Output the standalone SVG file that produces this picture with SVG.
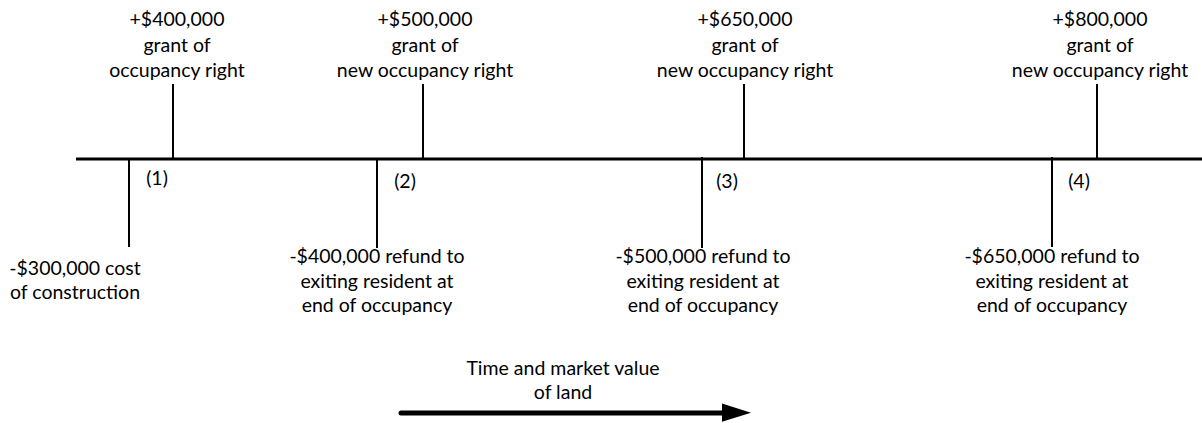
<svg xmlns="http://www.w3.org/2000/svg" width="1202" height="423" viewBox="0 0 1202 423">
  <defs>
    <style>
      text { font-family: Lato, "Liberation Sans", sans-serif; font-size: 19.5px; fill: #000; text-anchor: middle; }
      .tick { stroke: #000; stroke-width: 2; fill: none; }
      .axis { stroke: #000; stroke-width: 3; fill: none; }
      .arrow { stroke: #000; stroke-width: 5; stroke-linecap: round; fill: none; }
    </style>
  </defs>
  <rect width="1202" height="423" fill="#fff"/>

  <g id="connectors">
    <line class="axis" x1="76" y1="159" x2="1202" y2="159"/>
    <line class="tick" x1="173" y1="84" x2="173" y2="158"/>
    <line class="tick" x1="423" y1="84" x2="423" y2="158"/>
    <line class="tick" x1="744" y1="84" x2="744" y2="158"/>
    <line class="tick" x1="1097" y1="84" x2="1097" y2="158"/>
    <line class="tick" x1="129" y1="158" x2="129" y2="247"/>
    <line class="tick" x1="377" y1="158" x2="377" y2="248"/>
    <line class="tick" x1="702" y1="157" x2="702" y2="248"/>
    <line class="tick" x1="1052" y1="157" x2="1052" y2="247"/>
  </g>

  <g id="inflow1">
    <text x="177" y="26">+$400,000</text>
    <text x="177" y="51.5">grant of</text>
    <text x="177" y="77">occupancy right</text>
  </g>
  <g id="inflow2">
    <text x="425" y="26">+$500,000</text>
    <text x="425" y="51.5">grant of</text>
    <text x="425" y="77">new occupancy right</text>
  </g>
  <g id="inflow3">
    <text x="745" y="26">+$650,000</text>
    <text x="745" y="51.5">grant of</text>
    <text x="745" y="77">new occupancy right</text>
  </g>
  <g id="inflow4">
    <text x="1100" y="26">+$800,000</text>
    <text x="1100" y="51.5">grant of</text>
    <text x="1100" y="77">new occupancy right</text>
  </g>

  <g id="step1"><text x="157" y="185">(1)</text></g>
  <g id="step2"><text x="405" y="188">(2)</text></g>
  <g id="step3"><text x="727" y="188">(3)</text></g>
  <g id="step4"><text x="1079" y="188">(4)</text></g>

  <g id="outflow1">
    <text x="75" y="275">-$300,000 cost</text>
    <text x="75" y="299">of construction</text>
  </g>
  <g id="outflow2">
    <text x="377" y="263">-$400,000 refund to</text>
    <text x="377" y="288">exiting resident at</text>
    <text x="377" y="312">end of occupancy</text>
  </g>
  <g id="outflow3">
    <text x="703" y="263">-$500,000 refund to</text>
    <text x="703" y="288">exiting resident at</text>
    <text x="703" y="312">end of occupancy</text>
  </g>
  <g id="outflow4">
    <text x="1052" y="263">-$650,000 refund to</text>
    <text x="1052" y="288">exiting resident at</text>
    <text x="1052" y="312">end of occupancy</text>
  </g>

  <g id="time-arrow">
    <text x="563" y="375">Time and market value</text>
    <text x="563" y="399">of land</text>
    <line class="arrow" x1="401" y1="413" x2="724" y2="413"/>
    <polygon points="722,403.5 751,412.7 722,421.7" fill="#000"/>
  </g>
</svg>
